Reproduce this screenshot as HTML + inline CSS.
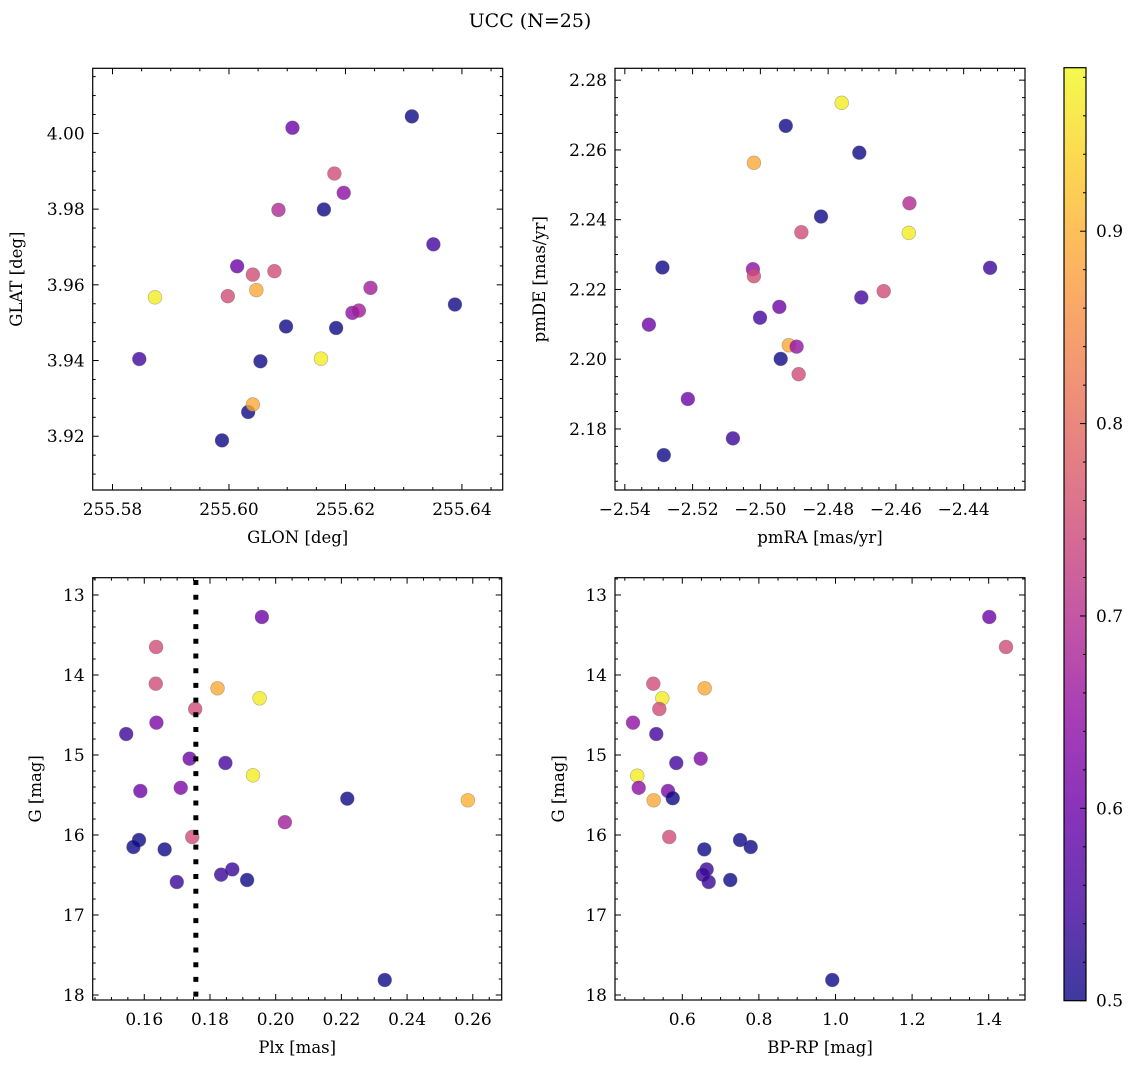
<!DOCTYPE html>
<html><head><meta charset="utf-8"><style>
html,body{margin:0;padding:0;background:#fff}
svg{display:block;font-family:"DejaVu Serif","Liberation Serif",serif}
</style></head><body>
<svg id="fig" width="1136" height="1067" viewBox="0 0 1136 1067" xmlns="http://www.w3.org/2000/svg">
<text x="530" y="27" text-anchor="middle" font-size="19">UCC (N=25)</text>
<defs>
<linearGradient id="plasma" x1="0" y1="1" x2="0" y2="0">
<stop offset="0" stop-color="#0d0887"/><stop offset="0.1" stop-color="#41049d"/><stop offset="0.2" stop-color="#6a00a8"/><stop offset="0.3" stop-color="#8f0da4"/><stop offset="0.4" stop-color="#b12a90"/><stop offset="0.5" stop-color="#cc4778"/><stop offset="0.6" stop-color="#e16462"/><stop offset="0.7" stop-color="#f2844b"/><stop offset="0.8" stop-color="#fca636"/><stop offset="0.9" stop-color="#fcce25"/><stop offset="1" stop-color="#f0f921"/>
</linearGradient>
</defs>
</svg>
<script>
// Panel 1: GLON vs GLAT
const p1x=[255.5846,255.5873,255.5988,255.5998,255.6014,255.6033,255.6041,255.6041,255.6047,255.6054,255.6078,255.6085,255.6098,255.6109,255.6158,255.6163,255.6181,255.6184,255.6197,255.6212,255.6223,255.6243,255.6314,255.6351,255.6388];
const p1y=[3.9404,3.9567,3.9189,3.9570,3.9649,3.9264,3.9627,3.9284,3.9586,3.9398,3.9636,3.9798,3.9490,4.0015,3.9405,3.9799,3.9894,3.9486,3.9843,3.9526,3.9532,3.9592,4.0045,3.9707,3.9548];
const p1c=[0.55,0.97,0.5,0.75,0.6,0.5,0.75,0.89,0.89,0.5,0.75,0.69,0.5,0.6,0.97,0.5,0.75,0.5,0.64,0.645,0.67,0.67,0.5,0.55,0.5];
// Panel 2: pmRA vs pmDE
const p2x=[-2.4760,-2.4925,-2.4708,-2.5019,-2.4560,-2.4821,-2.4879,-2.4562,-2.5289,-2.5022,-2.5019,-2.4322,-2.4636,-2.4702,-2.4944,-2.5001,-2.5329,-2.4916,-2.4893,-2.4940,-2.4887,-2.5214,-2.5081,-2.5285];
const p2y=[2.2735,2.2669,2.2592,2.2563,2.2447,2.2409,2.2364,2.2362,2.2263,2.2258,2.2238,2.2262,2.2195,2.2177,2.2150,2.2119,2.2099,2.2040,2.2036,2.2001,2.1957,2.1886,2.1773,2.1725];
const p2c=[0.97,0.5,0.5,0.89,0.69,0.5,0.75,0.97,0.5,0.645,0.75,0.54,0.75,0.55,0.6,0.55,0.6,0.89,0.65,0.5,0.75,0.6,0.54,0.5];
// Panel 3: Plx vs G
const p3x=[0.1958,0.1636,0.1635,0.1823,0.1951,0.1755,0.1637,0.1545,0.1738,0.1847,0.1931,0.1588,0.1711,0.2218,0.2585,0.2028,0.1584,0.1567,0.1662,0.1868,0.1834,0.1913,0.1699,0.2332,0.1746];
const p3y=[13.275,13.65,14.109,14.166,14.291,14.425,14.596,14.738,15.046,15.10,15.254,15.45,15.41,15.546,15.566,15.84,16.0625,16.15,16.18,16.43,16.496,16.5625,16.5875,17.8125,16.025];
const p3c=[0.6,0.75,0.75,0.89,0.97,0.75,0.62,0.54,0.6,0.55,0.97,0.6,0.62,0.5,0.9,0.67,0.5,0.5,0.5,0.54,0.54,0.5,0.54,0.5,0.75];
const plxLine=[0.1757];
// Panel 4: BP-RP vs G
const p4x=[1.4016,1.4452,0.5243,0.6585,0.5478,0.5400,0.4713,0.5321,0.6480,0.5843,0.4825,0.4862,0.5627,0.5750,0.5253,0.5660,0.7507,0.7786,0.6575,0.6637,0.6540,0.7253,0.6690,0.9916];
const p4y=[13.275,13.65,14.109,14.166,14.291,14.425,14.596,14.738,15.046,15.10,15.259,15.41,15.45,15.54,15.566,16.025,16.0625,16.15,16.18,16.43,16.496,16.5625,16.5875,17.8125];
const p4c=[0.6,0.75,0.75,0.89,0.97,0.75,0.645,0.55,0.62,0.55,0.97,0.645,0.62,0.5,0.89,0.75,0.5,0.5,0.5,0.54,0.54,0.5,0.54,0.5];
// Colorbar
const cbRange=[0.5,0.985];
const cbTicks=[0.5,0.6,0.7,0.8,0.9];

const NS="http://www.w3.org/2000/svg";
const svg=document.getElementById('fig');
const TF=17, LF=16.5;
function el(tag,attrs,parent){const e=document.createElementNS(NS,tag);for(const k in attrs)e.setAttribute(k,attrs[k]);(parent||svg).appendChild(e);return e;}
const stops=[[0,[13,8,135]],[0.1,[65,4,157]],[0.2,[106,0,168]],[0.3,[143,13,164]],[0.4,[177,42,144]],[0.5,[204,71,120]],[0.6,[225,100,98]],[0.7,[242,132,75]],[0.8,[252,166,54]],[0.9,[252,206,37]],[1,[240,249,33]]];
function plasma(t){t=Math.max(0,Math.min(1,t));for(let i=0;i<stops.length-1;i++){const a=stops[i],b=stops[i+1];if(t<=b[0]){const f=(t-a[0])/(b[0]-a[0]);const c=a[1].map((v,j)=>Math.round(v+(b[1][j]-v)*f));return `rgb(${c[0]},${c[1]},${c[2]})`;}}return 'rgb(240,249,33)';}
function cmap(c){return plasma((c-cbRange[0])/(cbRange[1]-cbRange[0]));}
function ticksList(lo,hi,step){const out=[];let s=Math.ceil(lo/step-1e-9);for(let v=s*step;v<=hi+1e-9;v=(++s)*step)out.push(+v.toFixed(6));return out;}

function panel(name,box,xr,yr,xMaj,xMin,yMaj,yMin,xDec,yDec,xlabel,ylabel,ylabelX,xs,ys,cs,invertY){
  const g=el('g',{});
  
  
  const X=v=>box.l+(v-xr[0])/(xr[1]-xr[0])*(box.r-box.l);
  const Y=invertY?(v=>box.t+(v-yr[0])/(yr[1]-yr[0])*(box.b-box.t)):(v=>box.b-(v-yr[0])/(yr[1]-yr[0])*(box.b-box.t));
  const tg=el('g',{stroke:'#000','stroke-width':1},g);
  for(const v of ticksList(xr[0],xr[1],xMin)){const x=X(v);const maj=Math.abs(v/xMaj-Math.round(v/xMaj))<1e-6;const L=maj?6:3;
    el('line',{x1:x,x2:x,y1:box.b,y2:box.b-L},tg);el('line',{x1:x,x2:x,y1:box.t,y2:box.t+L},tg);
    if(maj){const t=el('text',{x:x,y:box.b+25,'text-anchor':'middle','font-size':TF,fill:'#000',stroke:'none'},g);t.textContent=v.toFixed(xDec).replace('-','\u2212');
      
      }}
  for(const v of ticksList(Math.min(yr[0],yr[1]),Math.max(yr[0],yr[1]),yMin)){const y=Y(v);const maj=Math.abs(v/yMaj-Math.round(v/yMaj))<1e-6;const L=maj?6:3;
    el('line',{x1:box.l,x2:box.l+L,y1:y,y2:y},tg);el('line',{x1:box.r,x2:box.r-L,y1:y,y2:y},tg);
    if(maj){const t=el('text',{x:box.l-8,y:y+6,'text-anchor':'end','font-size':TF,fill:'#000'},g);t.textContent=v.toFixed(yDec);
      
      }}
  const pts=el('g',{},g);
  
  
  for(let i=0;i<xs.length;i++){const c=el('circle',{cx:X(xs[i]),cy:Y(ys[i]),r:6.9,fill:cmap(cs[i]),'fill-opacity':0.8,stroke:'#666','stroke-opacity':0.5,'stroke-width':0.6},pts);
    
    }
  const fr=el('rect',{x:box.l,y:box.t,width:box.r-box.l,height:box.b-box.t,fill:'none',stroke:'#000','stroke-width':1.2},g);
  
  
  const xl=el('text',{x:(box.l+box.r)/2,y:box.b+53,'text-anchor':'middle','font-size':LF},g);xl.textContent=xlabel;
  
  
  const yc=(box.t+box.b)/2;
  const yl=el('text',{x:ylabelX,y:yc,'text-anchor':'middle','font-size':LF,transform:`rotate(-90 ${ylabelX} ${yc})`},g);yl.textContent=ylabel;
  
  
  return {X,Y,g};
}

panel('glon-glat-panel',{l:92.7,t:68.3,r:502.7,b:490},[255.5766,255.647],[3.9058,4.0172],0.02,0.005,0.02,0.005,2,2,'GLON [deg]','GLAT [deg]',22,p1x,p1y,p1c,false);
panel('pm-panel',{l:615,t:68.3,r:1025,b:490},[-2.5429,-2.4219],[2.1625,2.2834],0.02,0.005,0.02,0.005,2,2,'pmRA [mas/yr]','pmDE [mas/yr]',545,p2x,p2y,p2c,false);
const P3=panel('plx-g-panel',{l:92.7,t:577.7,r:501.7,b:1000},[0.1443,0.2688],[12.784,18.0625],0.02,0.005,1,0.2,2,0,'Plx [mas]','G [mag]',41,p3x,p3y,p3c,true);
panel('cmd-panel',{l:615,t:577.7,r:1025,b:1000},[0.4243,1.4948],[12.784,18.0625],0.2,0.05,1,0.2,1,0,'BP-RP [mag]','G [mag]',564,p4x,p4y,p4c,true);

// dotted vertical line in panel 3
const dl=el('line',{x1:P3.X(plxLine[0]),x2:P3.X(plxLine[0]),y1:580,y2:1000,stroke:'#000','stroke-width':5,'stroke-dasharray':'5 9.7'},P3.g);



// colorbar
const cb=el('g',{});


const cbBox={l:1064,r:1086,t:67.7,b:1000.7};
const cbr=el('rect',{x:cbBox.l,y:cbBox.t,width:cbBox.r-cbBox.l,height:cbBox.b-cbBox.t,fill:'url(#plasma)','fill-opacity':0.8,stroke:'#000','stroke-width':1.2},cb);


const CY=v=>cbBox.b-(v-cbRange[0])/(cbRange[1]-cbRange[0])*(cbBox.b-cbBox.t);
for(const v of ticksList(cbRange[0],cbRange[1],0.02)){const y=CY(v);const maj=cbTicks.some(t=>Math.abs(t-v)<1e-6);
  el('line',{x1:cbBox.r,x2:cbBox.r-(maj?6:3),y1:y,y2:y,stroke:'#000','stroke-width':1},cb);}
for(const v of cbTicks){const t=el('text',{x:cbBox.r+10,y:CY(v)+6,'font-size':TF},cb);t.textContent=v.toFixed(1);
  
  }
</script>
</body></html>
